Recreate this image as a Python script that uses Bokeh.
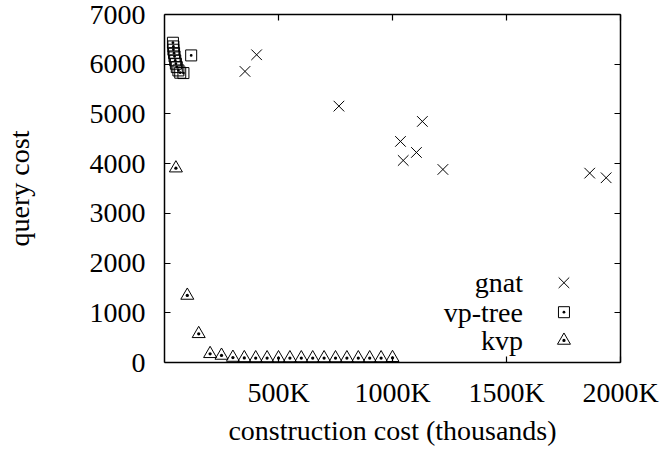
from bokeh.plotting import figure
from bokeh.models import LinearAxis, FixedTicker, Label, Range1d, CustomLabelingPolicy
from bokeh.embed import file_html
from bokeh.resources import INLINE

# ---- data (construction cost in thousands, query cost) ----
gnat_x = [353, 404, 765, 1035, 1047, 1105, 1131, 1221, 1865, 1937]
gnat_y = [5855, 6190, 5157, 4447, 4064, 4225, 4849, 3883, 3809, 3716]

vptree_x = [37, 39, 39, 42, 44, 47, 50, 54, 61, 69, 83, 117]
vptree_y = [6432, 6358, 6291, 6223, 6157, 6077, 6010, 5942, 5875, 5829, 5822, 6177]

kvp_x = [50, 100, 150, 200, 250, 300, 350, 400, 450, 500,
         550, 600, 650, 700, 750, 800, 850, 900, 950, 1000]
kvp_y = [3909, 1348, 577, 175, 141, 100, 92, 90, 90, 90,
         90, 90, 90, 90, 90, 90, 90, 90, 90, 95]

x_ticks = [500, 1000, 1500, 2000]
x_tick_labels = ["500K", "1000K", "1500K", "2000K"]
y_ticks = [0, 1000, 2000, 3000, 4000, 5000, 6000, 7000]

series_names = ["gnat", "vp-tree", "kvp"]

FONT = "Liberation Serif"
FS = "28px"

p = figure(frame_width=456, frame_height=348,
           x_range=Range1d(0, 2000), y_range=Range1d(0, 7000),
           output_backend="svg", toolbar_location=None,
           min_border_left=161, min_border_right=42,
           min_border_top=14, min_border_bottom=80,
           x_axis_label="construction cost (thousands)",
           y_axis_label="query cost")
p.outline_line_color = None
p.xgrid.visible = False
p.ygrid.visible = False
p.background_fill_color = "white"
p.border_fill_color = "white"

NO_LABELS = CustomLabelingPolicy(code="""
for (let i = 0; i < indices.size; i++) { indices.unset(i) }
return indices
""")

def style_axis(ax, fs=FS):
    ax.axis_line_color = "black"
    ax.axis_line_width = 1.5
    ax.major_tick_in = 6
    ax.major_tick_out = 0
    ax.major_tick_line_color = "black"
    ax.major_tick_line_width = 1.2
    ax.minor_tick_line_color = None
    ax.major_label_text_font = FONT
    ax.major_label_text_font_size = fs
    ax.major_label_text_color = "black"
    ax.axis_label_text_font = FONT
    ax.axis_label_text_font_size = FS
    ax.axis_label_text_font_style = "normal"
    ax.axis_label_text_color = "black"

xa = p.xaxis[0]
xa.ticker = FixedTicker(ticks=x_ticks)
xa.major_label_overrides = {t: l for t, l in zip(x_ticks, x_tick_labels)}
style_axis(xa)
xa.major_label_standoff = 14
xa.axis_label_standoff = 4

ya = p.yaxis[0]
ya.ticker = FixedTicker(ticks=y_ticks)
style_axis(ya)
ya.major_label_standoff = 19
ya.axis_label_standoff = 52

# mirrored tick marks (no labels) on top and right, like gnuplot's border
top = LinearAxis(ticker=FixedTicker(ticks=x_ticks), major_label_standoff=0,
                 major_label_policy=NO_LABELS)
style_axis(top, fs="1px")
p.add_layout(top, "above")
right = LinearAxis(ticker=FixedTicker(ticks=y_ticks), major_label_standoff=0,
                   major_label_policy=NO_LABELS)
style_axis(right, fs="1px")
p.add_layout(right, "right")

p.scatter(gnat_x, gnat_y, marker="x", size=15, line_color="black",
          line_width=1, fill_color=None)
p.scatter(vptree_x, vptree_y, marker="square_dot", size=11, line_color="black",
          line_width=1, fill_color=None)
p.scatter(kvp_x, kvp_y, marker="triangle_dot", size=13, line_color="black",
          line_width=1, fill_color=None)

# ---- legend (gnuplot style: text then sample on the right) ----
leg_text_x = 1572
leg_mark_x = 1752
leg_rows_y = [1604, 1012, 443]
leg_markers = ["x", "square_dot", "triangle_dot"]
leg_sizes = [15, 11, 13]
for name, yy, mk, sz in zip(series_names, leg_rows_y, leg_markers, leg_sizes):
    p.add_layout(Label(x=leg_text_x, y=yy, text=name, text_align="right",
                       text_baseline="middle", text_font=FONT,
                       text_font_size=FS, text_color="black"))
    p.scatter([leg_mark_x], [yy], marker=mk, size=sz, line_color="black",
              line_width=1, fill_color=None)

open("out.html", "w").write(file_html(p, INLINE))
